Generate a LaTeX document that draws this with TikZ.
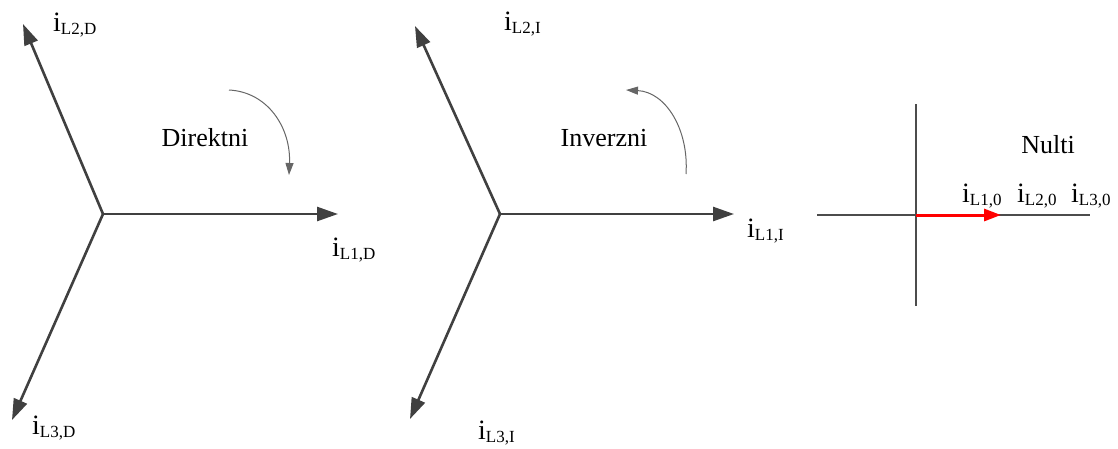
\documentclass[tikz,border=0pt]{standalone}
\usepackage{fontspec}
\setmainfont{Liberation Serif}
\usetikzlibrary{arrows.meta}
\newcommand{\lbl}[1]{\fontsize{28}{28}\selectfont i\raisebox{-3pt}{\fontsize{17}{17}\selectfont #1}}
\tikzset{
  phasor/.style={draw=black!75, line width=2.6pt, -{Triangle[length=21pt,width=14pt]}},
  rot/.style={draw=black!60, line width=1pt, -{Triangle[length=12pt,width=8pt]}},
  axis/.style={draw=black!70, line width=1.6pt},
  zero/.style={draw=red, line width=3pt, -{Triangle[length=17pt,width=12pt]}},
  lab/.style={anchor=base west, inner sep=0pt},
  title/.style={font=\fontsize{26}{26}\selectfont, inner sep=0pt}
}
\begin{document}
\begin{tikzpicture}[x=1pt,y=-1pt]
\useasboundingbox (0,0) rectangle (1118,448);
% Direktni
\coordinate (oD) at (103,214);
\coordinate (d1) at (338,214);
\coordinate (d2) at (23,24);
\coordinate (d3) at (12,420);
\draw[phasor] (oD) -- (d1);
\draw[phasor] (oD) -- (d2);
\draw[phasor] (oD) -- (d3);
\node[lab] (ld1) at (332,256) {\lbl{L1,D}};
\node[lab] (ld2) at (53,31) {\lbl{L2,D}};
\node[lab] (ld3) at (32,434) {\lbl{L3,D}};
\node[title] (tD) at (205,138) {Direktni};
\coordinate (rDs) at (229,90);
\coordinate (rDe) at (289,175);
\draw[rot] (rDs) .. controls (268,92) and (291,128) .. (rDe);
% Inverzni
\coordinate (oI) at (500,214);
\coordinate (i1) at (734,214);
\coordinate (i2) at (415,26);
\coordinate (i3) at (410,419);
\draw[phasor] (oI) -- (i1);
\draw[phasor] (oI) -- (i2);
\draw[phasor] (oI) -- (i3);
\node[lab] (li1) at (747,237) {\lbl{L1,I}};
\node[lab] (li2) at (504,30) {\lbl{L2,I}};
\node[lab] (li3) at (478,439) {\lbl{L3,I}};
\node[title] (tI) at (604,138) {Inverzni};
\coordinate (rIs) at (686,174);
\coordinate (rIe) at (626,90);
\draw[rot] (rIs) .. controls (689,130) and (666,92) .. (rIe);
% Nulti
\coordinate (vT) at (916,104);
\coordinate (vB) at (916,306);
\coordinate (hL) at (817,215);
\coordinate (hR) at (1090,215);
\coordinate (o0) at (916,215);
\coordinate (z1) at (1001,215);
\draw[axis] (vT) -- (vB);
\draw[axis] (hL) -- (hR);
\draw[zero] (o0) -- (z1);
\node[lab] (l01) at (962,202) {\lbl{L1,0}};
\node[lab] (l02) at (1017,202) {\lbl{L2,0}};
\node[lab] (l03) at (1071,202) {\lbl{L3,0}};
\node[title] (t0) at (1048,145) {Nulti};
\end{tikzpicture}
\end{document}
